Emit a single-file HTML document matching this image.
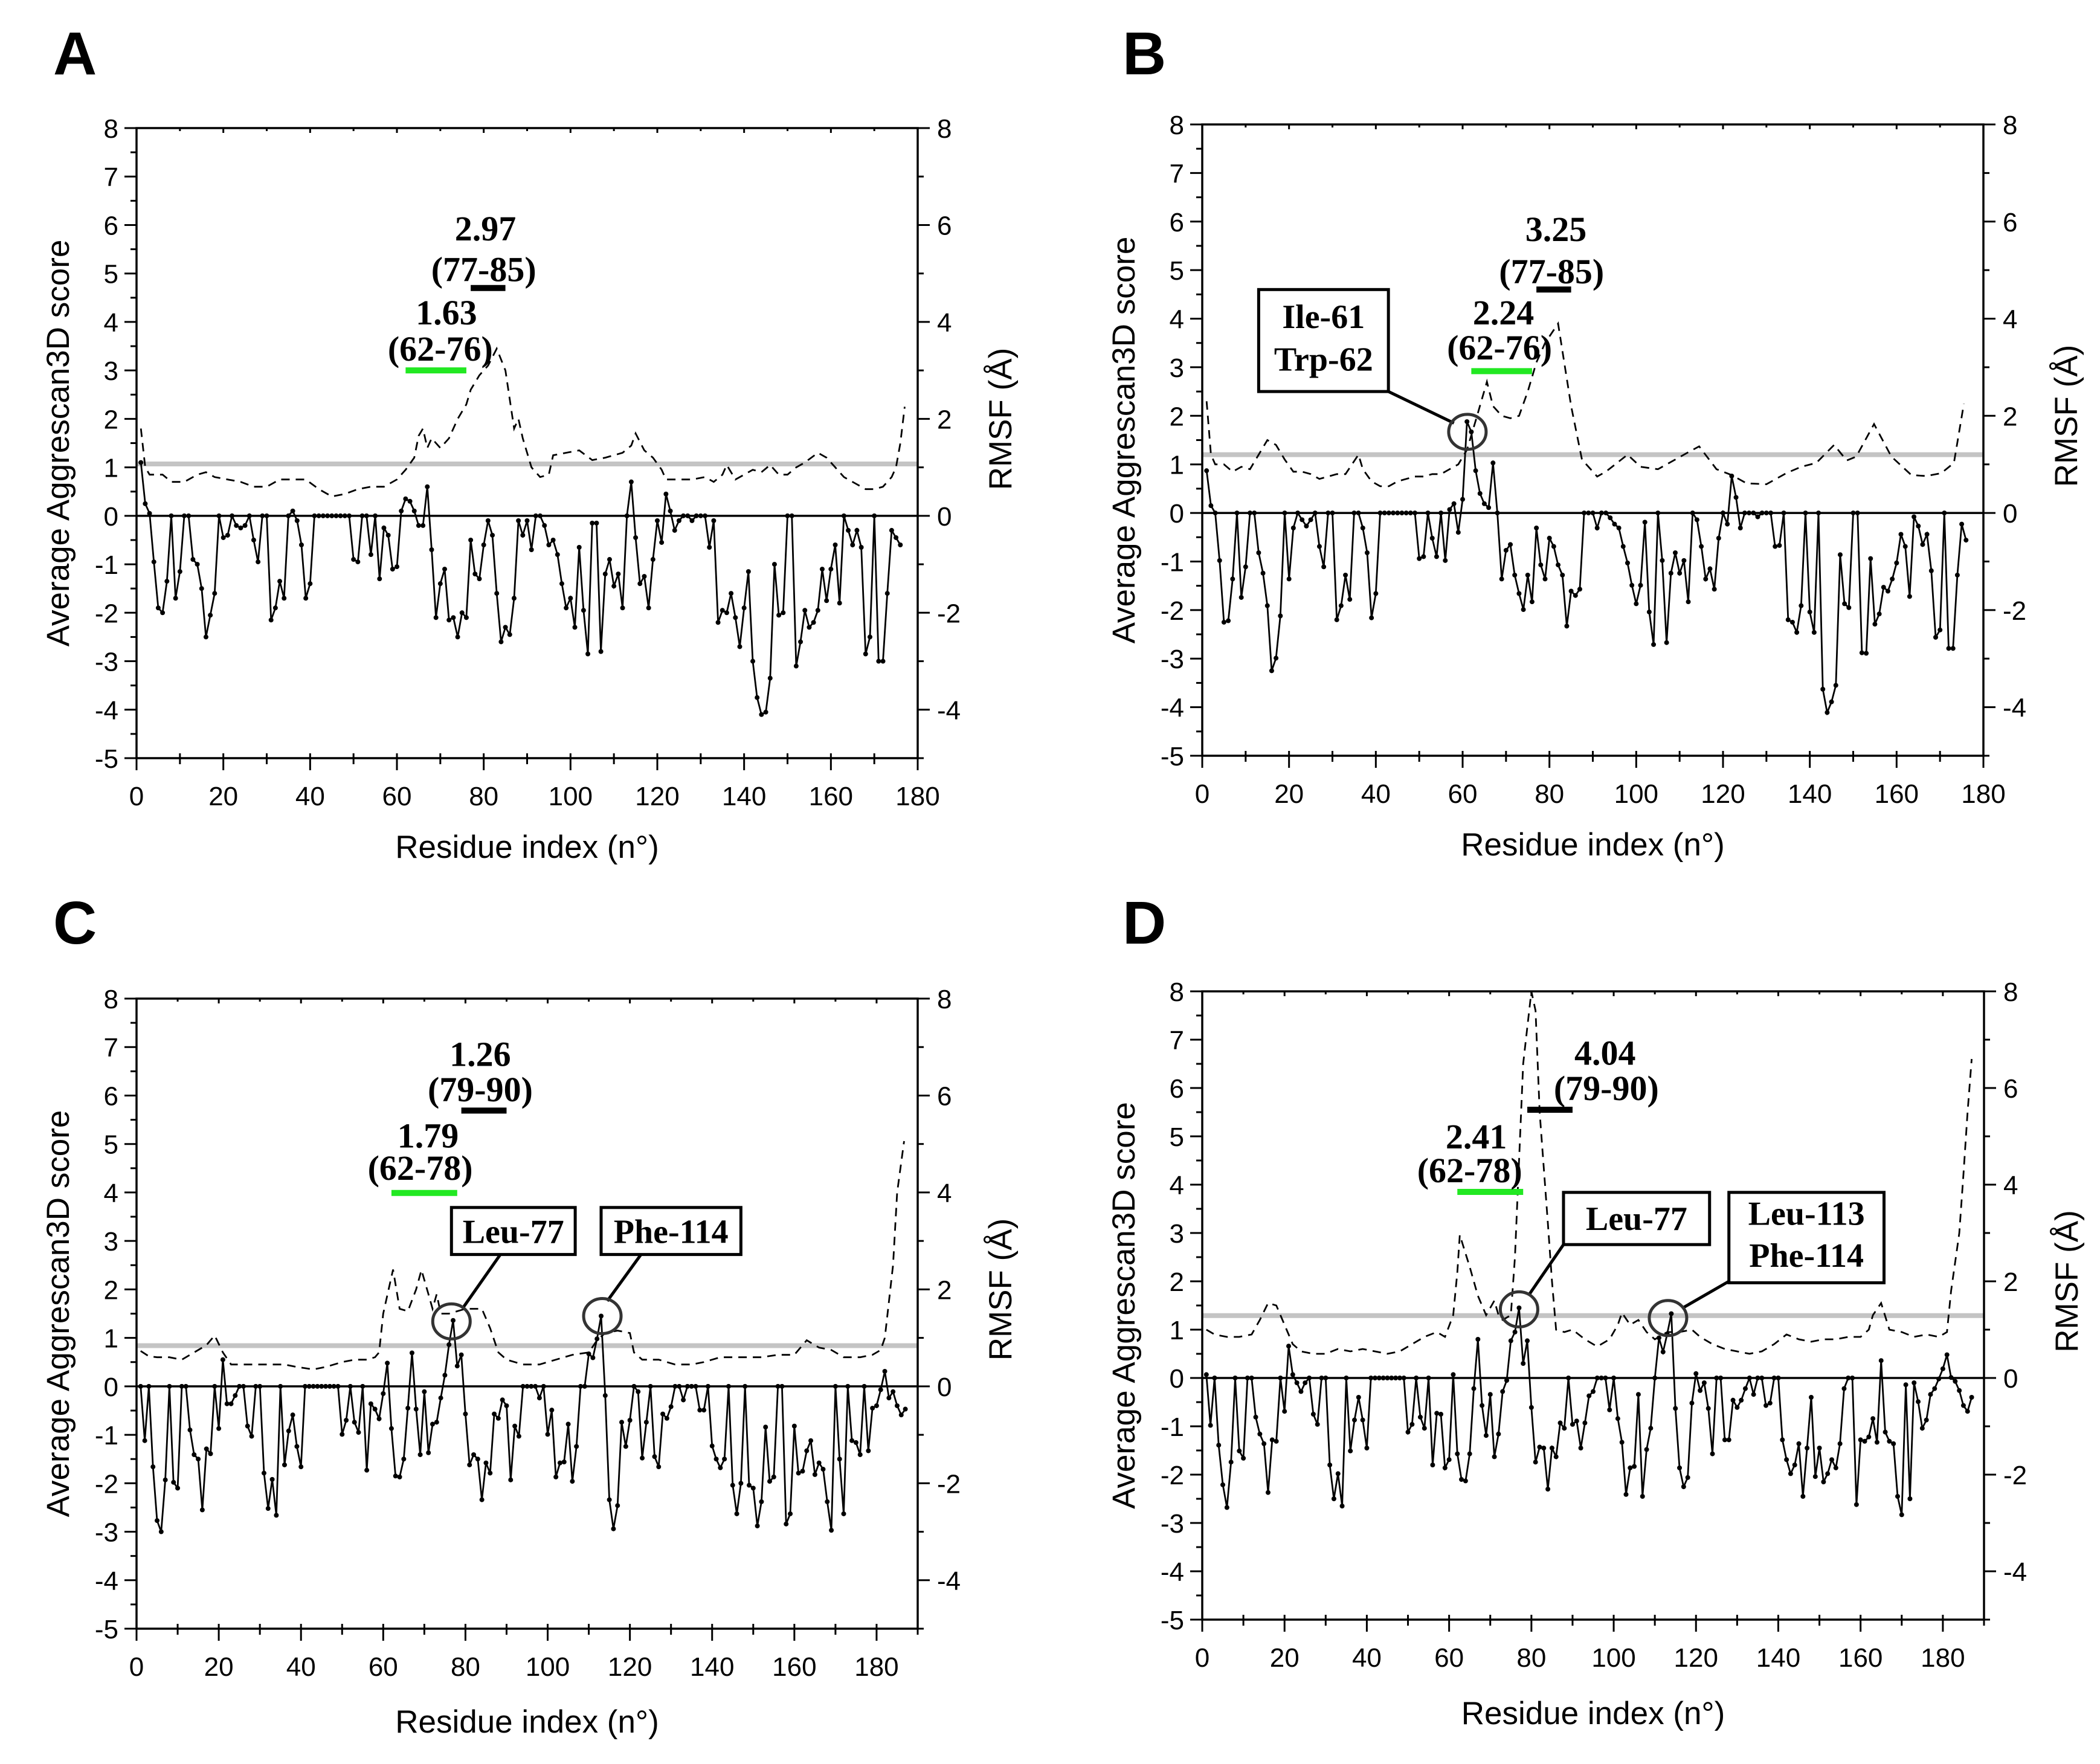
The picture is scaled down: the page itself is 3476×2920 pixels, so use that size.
<!DOCTYPE html>
<html><head><meta charset="utf-8">
<style>
html,body{margin:0;padding:0;background:#fff;}
svg{display:block;}
</style></head>
<body>
<svg id="fig" xmlns="http://www.w3.org/2000/svg" width="3476" height="2920" viewBox="0 0 3476 2920"></svg>
<script>
// ---------- DATA ----------
const scoreA = [1.1,0.25,0.05,-0.95,-1.9,-2.0,-1.35,0,-1.7,-1.15,0,0,-0.9,-1.0,-1.5,-2.5,-2.05,-1.6,0,-0.45,-0.4,0,-0.2,-0.25,-0.2,0,-0.5,-0.95,0,0,-2.15,-1.9,-1.35,-1.7,0,0.1,-0.1,-0.6,-1.7,-1.4,0,0,0,0,0,0,0,0,0,-0.9,-0.95,0,0,-0.8,0,-1.3,-0.25,-0.4,-1.1,-1.05,0.1,0.35,0.3,0.1,-0.2,-0.2,0.6,-0.7,-2.1,-1.4,-1.1,-2.15,-2.1,-2.5,-2.0,-2.1,-0.5,-1.2,-1.3,-0.6,-0.1,-0.4,-1.6,-2.6,-2.3,-2.45,-1.7,-0.1,-0.4,-0.1,-0.7,0,0,-0.2,-0.6,-0.5,-0.8,-1.4,-1.9,-1.7,-2.3,-0.65,-1.95,-2.85,-0.15,-0.15,-2.8,-1.2,-0.9,-1.45,-1.2,-1.9,0,0.7,-0.45,-1.4,-1.25,-1.9,-0.9,-0.1,-0.55,0.45,0.1,-0.3,-0.1,0,0,-0.1,0,0,0,-0.65,-0.1,-2.2,-1.95,-2.0,-1.6,-2.1,-2.7,-1.9,-1.15,-3.0,-3.75,-4.1,-4.05,-3.35,-1.0,-2.05,-2.0,0,0,-3.1,-2.6,-1.95,-2.3,-2.2,-1.95,-1.1,-1.75,-1.1,-0.6,-1.8,0,-0.3,-0.6,-0.3,-0.65,-2.85,-2.5,0,-3.0,-3.0,-1.6,-0.3,-0.45,-0.6];
const rmsfResA = [1,2,3,6,8,11,14,16,18,21,24,27,30,33,36,39,42,45,48,51,54,57,60,62,64,65,66,67,68,70,72,74,76,77,79,81,83,85,86,87,88,89,91,93,95,96,99,102,105,108,110,112,114,115,117,119,121,122,125,128,131,133,135,136,138,140,142,144,146,148,150,152,154,157,159,161,163,166,168,170,172,174,175,176,177];
const rmsfA = [1.8,1.0,0.85,0.85,0.7,0.7,0.85,0.9,0.8,0.75,0.7,0.6,0.6,0.75,0.75,0.75,0.55,0.4,0.45,0.55,0.6,0.6,0.75,0.95,1.2,1.65,1.8,1.4,1.6,1.4,1.6,2.0,2.3,2.6,2.9,3.1,3.45,3.0,2.4,1.8,2.0,1.6,1.0,0.8,0.85,1.25,1.3,1.35,1.15,1.2,1.25,1.3,1.45,1.7,1.35,1.2,0.95,0.75,0.75,0.75,0.8,0.7,0.85,1.05,0.75,0.85,0.95,0.9,1.05,0.85,0.85,1.0,1.1,1.3,1.2,1.0,0.8,0.65,0.55,0.55,0.6,0.8,1.0,1.5,2.25];

const scoreB = [0.87,0.15,0,-0.98,-2.25,-2.22,-1.36,0,-1.74,-1.11,0,0,-0.82,-1.24,-1.91,-3.25,-2.99,-2.12,0,-1.36,-0.31,0,-0.14,-0.27,-0.14,0,-0.69,-1.11,0,0,-2.2,-1.91,-1.28,-1.78,0,0,-0.31,-0.82,-2.16,-1.66,0,0,0,0,0,0,0,0,0,-0.94,-0.9,0,-0.52,-0.9,0,-0.98,0.07,0.19,-0.4,0.28,1.88,1.67,0.87,0.4,0.19,0.11,1.03,0,-1.36,-0.77,-0.65,-1.28,-1.66,-1.99,-1.28,-1.83,-0.31,-1.07,-1.36,-0.52,-0.69,-1.07,-1.28,-2.33,-1.61,-1.7,-1.57,0,0,0,-0.31,0,0,-0.1,-0.23,-0.31,-0.69,-1.03,-1.49,-1.87,-1.49,-0.19,-2.04,-2.71,0,-0.98,-2.67,-1.24,-0.82,-1.24,-0.98,-1.83,0,-0.14,-0.69,-1.36,-1.15,-1.57,-0.52,0,-0.23,0.76,0.32,-0.31,0,0,0,-0.08,0,0,0,-0.69,-0.67,0,-2.2,-2.25,-2.46,-1.91,0,-2.04,-2.46,0,-3.63,-4.11,-3.89,-3.55,-0.86,-1.87,-1.95,0,0,-2.88,-2.89,-0.94,-2.29,-2.08,-1.53,-1.61,-1.36,-1.03,-0.44,-0.69,-1.72,-0.08,-0.27,-0.65,-0.44,-1.19,-2.56,-2.41,0,-2.79,-2.79,-1.28,-0.23,-0.56];
const rmsfResB = [1,2,3,5,7,9,11,13,15,17,19,21,23,25,27,29,31,33,36,37,39,41,43,45,47,49,51,53,55,57,59,61,63,65.6,67,69,71,73,75,77,79,82,85,87.5,91,93,98,101,105,108,112,114.5,118.5,122,125.4,130,134.6,138,141.5,145.6,148.5,150.7,154.8,158.8,163.4,166.9,170.3,173.2,175.5];
const rmsfB = [2.3,1.2,1.0,1.0,0.85,0.95,0.9,1.2,1.5,1.4,1.1,0.85,0.85,0.8,0.7,0.75,0.8,0.8,1.2,0.9,0.65,0.55,0.55,0.65,0.7,0.75,0.75,0.8,0.8,0.9,1.0,1.3,1.9,2.7,2.2,2.0,1.95,2.0,2.5,3.1,3.5,3.9,2.2,1.1,0.75,0.85,1.2,0.95,0.9,1.05,1.25,1.37,0.9,0.78,0.61,0.59,0.82,0.95,1.03,1.4,1.08,1.16,1.83,1.16,0.78,0.76,0.82,1.03,2.25];

const scoreC = [0,-1.12,0,-1.66,-2.77,-3.0,-1.93,0,-1.98,-2.1,0,0,-0.9,-1.41,-1.5,-2.55,-1.29,-1.39,0,-0.87,0.55,-0.36,-0.36,-0.19,0,0,-0.82,-1.03,0,0,-1.79,-2.52,-1.92,-2.66,0,-1.62,-0.92,-0.59,-1.24,-1.66,0,0,0,0,0,0,0,0,0,-0.99,-0.7,0,-0.74,-0.95,0,-1.73,-0.36,-0.47,-0.67,-0.15,0.48,-0.87,-1.85,-1.87,-1.5,-0.45,0.69,-0.47,-1.41,-0.11,-1.37,-0.78,-0.74,-0.24,0.23,0.86,1.36,0.42,0.65,-0.57,-1.62,-1.41,-1.5,-2.34,-1.58,-1.79,-0.57,-0.66,-0.28,-0.4,-1.93,-0.82,-1.03,0,0,0,0,-0.24,0,-0.99,-0.49,-1.87,-1.58,-1.56,-0.78,-1.96,-1.24,0,0,0.67,0.59,0.98,1.45,-0.19,-2.34,-2.94,-2.46,-0.74,-1.24,-0.7,0,-0.11,-1.48,-0.74,0,-1.45,-1.66,-0.57,-0.66,-0.42,0,0,-0.28,0,0,0,-0.49,-0.49,0,-1.23,-1.5,-1.68,-1.5,0,-2.04,-2.63,-2.0,0,-2.04,-2.1,-2.88,-2.38,-0.84,-1.96,-1.87,0,0,-2.84,-2.63,-0.82,-1.79,-1.75,-1.33,-1.12,-1.82,-1.58,-1.71,-2.38,-2.97,0,-1.5,-2.63,0,-1.12,-1.16,-1.41,0,-1.33,-0.45,-0.4,-0.07,0.31,-0.24,-0.11,-0.4,-0.59,-0.47];
const rmsfResC = [1,3,5,8,11,14,17,19,21,23,26,29,33,36,39,43,46,50,53,56,58,59,60,62.4,64,66,68,69.3,71,72,73,74,76,80,82,84,86,88,90,94,98,102,106,110,112,114,117,120,121,123,127,131,135,138,142,145,148,152,156,160,163,166,169,172,176,179,181,182,184,185,186.7];
const rmsfC = [0.73,0.62,0.6,0.6,0.55,0.7,0.85,1.05,0.7,0.45,0.45,0.45,0.45,0.45,0.4,0.35,0.4,0.5,0.55,0.55,0.6,0.7,1.5,2.41,1.6,1.55,2.0,2.4,1.9,1.6,1.9,1.5,1.5,1.6,1.6,1.6,1.2,0.7,0.55,0.45,0.45,0.55,0.65,0.7,0.95,1.1,1.15,1.1,0.7,0.55,0.55,0.45,0.45,0.5,0.6,0.6,0.6,0.6,0.65,0.65,0.95,0.8,0.75,0.6,0.6,0.65,0.75,1.0,2.5,4.0,5.06];

const scoreD = [0.07,-0.98,0,-1.39,-2.21,-2.68,-1.74,0,-1.51,-1.66,0,0,-0.81,-1.16,-1.36,-2.37,-1.28,-1.31,0,-0.69,0.66,0.07,-0.1,-0.28,-0.1,0,-0.75,-0.96,0,0,-1.8,-2.5,-1.98,-2.65,0,-1.51,-0.87,-0.4,-0.87,-1.45,0,0,0,0,0,0,0,0,0,-1.12,-0.96,0,-0.81,-1.04,0,-1.8,-0.73,-0.75,-1.86,-1.69,0.07,-1.57,-2.1,-2.13,-1.57,-0.22,0.8,-0.57,-1.19,-0.34,-1.63,-1.16,-0.28,-0.05,0.77,0.95,1.45,0.3,0.77,-0.61,-1.74,-1.43,-1.45,-2.3,-1.45,-1.63,-0.93,-1.04,0,-0.96,-0.89,-1.45,-0.93,-0.37,-0.28,0,0,0,-0.66,0,-0.84,-1.33,-2.41,-1.86,-1.83,-0.34,-2.45,-1.48,-1.04,0,0.83,0.54,0.91,1.33,-0.63,-1.86,-2.25,-2.06,-0.52,0.09,-0.26,-0.1,-0.63,-1.57,0,0,-1.28,-1.28,-0.46,-0.61,-0.46,-0.22,0,-0.34,0,0,-0.57,-0.52,0,0,-1.28,-1.69,-1.98,-1.8,-1.36,-2.45,-1.45,-0.4,-2.04,-1.45,-2.15,-1.98,-1.69,-1.86,-1.36,-0.22,0,0,-2.62,-1.28,-1.31,-1.22,-0.84,-1.33,0.36,-1.12,-1.31,-1.36,-2.45,-2.83,-0.14,-2.5,-0.1,-0.49,-1.04,-0.87,-0.34,-0.22,-0.02,0.19,0.48,0.01,-0.07,-0.26,-0.57,-0.69,-0.4];
const rmsfResD = [1,3,6,9,12,14,16,18,20,22,24,27,30,33,36,39,42,45,48,51,54,57,59,61,62,62.6,65,67,69,71,72,73,75,76,77,78,80,81,82,84,85,86,88,90,93,96,99,101,102,104,106,108,110,113,116,119,121,124,127,130,133,136,139,142,145,148,151,154,157,160,162,163,165,167,170,173,176,179,181,182,184,185,186,187];
const rmsfD = [1.0,0.9,0.85,0.85,0.9,1.2,1.55,1.5,1.1,0.7,0.55,0.5,0.5,0.6,0.55,0.6,0.55,0.5,0.55,0.7,0.85,0.95,0.85,1.3,2.2,2.96,2.3,1.7,1.3,1.6,1.3,1.2,1.3,2.5,4.5,6.5,8.0,7.6,5.5,3.2,2.0,1.0,0.95,1.0,0.8,0.65,0.8,1.1,1.35,1.1,1.2,0.95,0.8,0.95,0.95,1.0,0.85,0.7,0.6,0.55,0.5,0.55,0.7,0.9,0.8,0.75,0.8,0.8,0.85,0.85,1.0,1.3,1.55,1.0,0.95,0.85,0.9,0.85,0.95,1.8,3.0,4.2,5.5,6.6];

const thresholds = [1.07, 1.2, 0.84, 1.29];
const panelLetters = ['A','B','C','D'];
const xTickLabels = [0,20,40,60,80,100,120,140,160,180];
const leftTickLabels = [-5,-4,-3,-2,-1,0,1,2,3,4,5,6,7,8];
const rightTickLabels = [-4,-2,0,2,4,6,8];

// ---------- DRAWING ----------
const NS = 'http://www.w3.org/2000/svg';
const svg = document.getElementById('fig');
function mk(tag, attrs, parent) {
  const el = document.createElementNS(NS, tag);
  for (const k in attrs) el.setAttribute(k, attrs[k]);
  (parent || svg).appendChild(el);
  return el;
}
function txt(str, attrs, parent) {
  const t = mk('text', attrs, parent);
  t.textContent = str;
  return t;
}
const SANS = '"Liberation Sans", Arial, sans-serif';
const SERIF = '"Liberation Serif", "Times New Roman", serif';

const panels = [
  {L:226, T:212, R:1519, B:1255, xmax:180, score:scoreA, rr:rmsfResA, rv:rmsfA, letterX:88, letterY:123, titleY:1420},
  {L:1990, T:206, R:3283, B:1251, xmax:180, score:scoreB, rr:rmsfResB, rv:rmsfB, letterX:1858, letterY:123, titleY:1416},
  {L:226, T:1653, R:1519, B:2696, xmax:190, score:scoreC, rr:rmsfResC, rv:rmsfC, letterX:88, letterY:1562, titleY:2868},
  {L:1990, T:1641, R:3284, B:2681, xmax:190, score:scoreD, rr:rmsfResD, rv:rmsfD, letterX:1858, letterY:1562, titleY:2854}
];

const annots = [
  {texts:[['2.97',80.4,5.68],['(77-85)',80,4.84],['1.63',71.4,3.95],['(62-76)',70,3.2]],
   bars:[[77,85,4.7,'#000'],[62,76,3.0,'#22e822']], boxes:[], circles:[], leaders:[]},
  {texts:[['3.25',81.5,5.6],['(77-85)',80.5,4.73],['2.24',69.4,3.88],['(62-76)',68.5,3.16]],
   bars:[[77,85,4.6,'#000'],[62,76,2.92,'#22e822']],
   boxes:[[13,42.9,4.6,2.5,['Ile-61','Trp-62'],[3.81,2.93]]],
   circles:[[61.1,1.67]], leaders:[[42.9,2.5,58,1.85]]},
  {texts:[['1.26',83.6,6.61],['(79-90)',83.6,5.88],['1.79',70.9,4.93],['(62-78)',69,4.26]],
   bars:[[79,90,5.69,'#000'],[62,78,3.99,'#22e822']],
   boxes:[[76.6,106.7,3.69,2.72,['Leu-77'],[2.96]],[113,147,3.69,2.72,['Phe-114'],[2.96]]],
   circles:[[76.6,1.34],[113.3,1.45]], leaders:[[88.5,2.72,79.4,1.62],[122.7,2.72,114.5,1.76]]},
  {texts:[['4.04',97.9,6.48],['(79-90)',98.2,5.75],['2.41',66.6,4.75],['(62-78)',65,4.05]],
   bars:[[79,90,5.55,'#000'],[62,78,3.85,'#22e822']],
   boxes:[[87.8,123.3,3.84,2.76,['Leu-77'],[3.06]],[128,165.7,3.84,1.97,['Leu-113','Phe-114'],[3.17,2.3]]],
   circles:[[77,1.42],[113.2,1.24]], leaders:[[87.8,2.76,79.4,1.72],[128,2.0,117,1.46]]}
];

panels.forEach((p, pi) => {
  const g = mk('g', {});
  
  
  const X = v => p.L + (p.R - p.L) * v / p.xmax;
  const Y = v => p.B - (p.B - p.T) * (v + 5) / 13;

  const letter = txt(panelLetters[pi], {x:p.letterX, y:p.letterY, 'font-family':SANS, 'font-size':100, 'font-weight':'bold'}, g);
  
  

  const th = mk('line', {x1:p.L, x2:p.R, y1:Y(thresholds[pi]), y2:Y(thresholds[pi]), stroke:'#c4c4c4', 'stroke-width':8}, g);
  
  

  const z = mk('line', {x1:p.L, x2:p.R, y1:Y(0), y2:Y(0), stroke:'#000', 'stroke-width':3.5}, g);
  
  

  const rp = p.rr.map((r, i) => X(r).toFixed(1) + ',' + Y(p.rv[i]).toFixed(1)).join(' ');
  const rl = mk('polyline', {points:rp, fill:'none', stroke:'#000', 'stroke-width':2.8, 'stroke-dasharray':'14 10'}, g);
  
  

  const sp = p.score.map((v, i) => X(i + 1).toFixed(1) + ',' + Y(v).toFixed(1)).join(' ');
  const sl = mk('polyline', {points:sp, fill:'none', stroke:'#000', 'stroke-width':2.8}, g);
  
  
  p.score.forEach((v, i) => {
    const c = mk('circle', {cx:X(i + 1), cy:Y(v), r:4, fill:'#000'}, g);
    
    
  });

  const fr = mk('rect', {x:p.L, y:p.T, width:p.R - p.L, height:p.B - p.T, fill:'none', stroke:'#000', 'stroke-width':3.5}, g);
  
  

  for (let v = -5; v <= 8; v += 0.5) {
    const major = Number.isInteger(v);
    const t = mk('line', {x1:p.L - (major ? 20 : 10), x2:p.L, y1:Y(v), y2:Y(v), stroke:'#000', 'stroke-width':3}, g);
    
    
  }
  leftTickLabels.forEach(v => {
    const t = txt(String(v), {x:p.L - 30, y:Y(v) + 16, 'text-anchor':'end', 'font-family':SANS, 'font-size':44}, g);
    
    
  });
  for (let v = -5; v <= 8; v += 1) {
    const major = (v % 2 === 0);
    const t = mk('line', {x1:p.R, x2:p.R + (major ? 20 : 10), y1:Y(v), y2:Y(v), stroke:'#000', 'stroke-width':3}, g);
    
    
  }
  rightTickLabels.forEach(v => {
    const t = txt(String(v), {x:p.R + 32, y:Y(v) + 16, 'text-anchor':'start', 'font-family':SANS, 'font-size':44}, g);
    
    
  });
  for (let v = 0; v <= p.xmax; v += 10) {
    const major = (v % 20 === 0);
    const t = mk('line', {x1:X(v), x2:X(v), y1:p.B - 8, y2:p.B + (major ? 20 : 10), stroke:'#000', 'stroke-width':3}, g);
    
    
    const tt = mk('line', {x1:X(v), x2:X(v), y1:p.T, y2:p.T + (major ? 8 : 5), stroke:'#000', 'stroke-width':3}, g);
    
    
  }
  xTickLabels.forEach(v => {
    const t = txt(String(v), {x:X(v), y:p.B + 78, 'text-anchor':'middle', 'font-family':SANS, 'font-size':44}, g);
    
    
  });

  const xt = txt('Residue index (n°)', {x:(p.L + p.R) / 2, y:p.titleY, 'text-anchor':'middle', 'font-family':SANS, 'font-size':53}, g);
  
  
  const cy = (p.T + p.B) / 2;
  const lx = p.L - 112;
  const ly = txt('Average Aggrescan3D score', {x:lx, y:cy, 'text-anchor':'middle', 'font-family':SANS, 'font-size':53, transform:'rotate(-90 ' + lx + ' ' + cy + ')'}, g);
  
  
  const rx = p.R + 155;
  const ry = txt('RMSF (Å)', {x:rx, y:cy - 40, 'text-anchor':'middle', 'font-family':SANS, 'font-size':53, transform:'rotate(-90 ' + rx + ' ' + (cy - 40) + ')'}, g);
  
  

  const a = annots[pi];
  a.bars.forEach(b => {
    const bl = mk('line', {x1:X(b[0]), x2:X(b[1]), y1:Y(b[2]), y2:Y(b[2]), stroke:b[3], 'stroke-width':10}, g);
    
    
  });
  a.texts.forEach(t => {
    const el = txt(t[0], {x:X(t[1]), y:Y(t[2]), 'text-anchor':'middle', 'font-family':SERIF, 'font-weight':'bold', 'font-size':58}, g);
    
    
  });
  a.leaders.forEach(l => {
    const ln = mk('line', {x1:X(l[0]), y1:Y(l[1]), x2:X(l[2]), y2:Y(l[3]), stroke:'#000', 'stroke-width':5}, g);
    
    
  });
  a.boxes.forEach(b => {
    const bx = mk('rect', {x:X(b[0]), y:Y(b[2]), width:X(b[1]) - X(b[0]), height:Y(b[3]) - Y(b[2]), fill:'#fff', stroke:'#000', 'stroke-width':5}, g);
    
    
    b[4].forEach((s, k) => {
      const el = txt(s, {x:(X(b[0]) + X(b[1])) / 2, y:Y(b[5][k]), 'text-anchor':'middle', 'font-family':SERIF, 'font-weight':'bold', 'font-size':56}, g);
      
      
    });
  });
  a.circles.forEach(c => {
    const ci = mk('ellipse', {cx:X(c[0]), cy:Y(c[1]), rx:31, ry:29, fill:'none', stroke:'#333', 'stroke-width':5}, g);
    
    
  });
});
</script>
</body></html>
